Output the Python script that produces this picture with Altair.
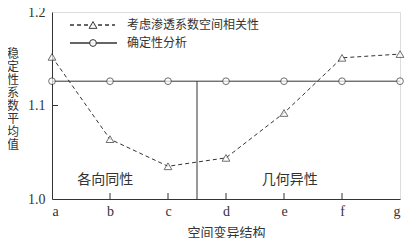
import altair as alt
import pandas as pd

# data
x_pos = [0, 1, 2, 3, 4, 5, 6]
x_labels = ["a", "b", "c", "d", "e", "f", "g"]
corr_vals = [1.152, 1.064, 1.035, 1.044, 1.092, 1.151, 1.155]
det_vals = [1.126, 1.126, 1.126, 1.126, 1.126, 1.126, 1.126]
divider_x = [2.5]
region_text = ["各向同性", "几何异性"]
region_x = [0.92, 4.1]
region_y = [1.02, 1.02]
legend_labels = ["考虑渗透系数空间相关性", "确定性分析"]
y_title = "稳定性系数平均值"

W, H = 348, 187
C = "#333333"
SERIF = "Liberation Serif, Noto Sans CJK SC"

df = pd.DataFrame({"x": x_pos, "corr": corr_vals, "det": det_vals})
xs = alt.Scale(domain=[0, 6], nice=False, zero=False)
ys = alt.Scale(domain=[1.0, 1.2], nice=False, zero=False)

label_expr = "[" + ",".join(f"'{l}'" for l in x_labels) + "][datum.value]"

xenc = alt.X("x:Q", scale=xs, title="空间变异结构",
             axis=alt.Axis(values=x_pos, labelExpr=label_expr, ticks=False,
                           grid=False, labelPadding=5, titlePadding=8,
                           labelFontSize=14, titleFontSize=13,
                           labelFont=SERIF, titleFont="Noto Sans CJK SC",
                           titleFontWeight="normal", labelColor=C, titleColor=C,
                           domainColor=C))

det_line = alt.Chart(df).mark_line(color=C, strokeWidth=1).encode(
    x=xenc,
    y=alt.Y("det:Q", scale=ys, title=None,
            axis=alt.Axis(values=[1.0, 1.1, 1.2], format=".1f", ticks=False,
                          grid=False, labelPadding=7,
                          labelFontSize=14, labelFont=SERIF,
                          labelColor=C, domainColor=C)))
det_pts = alt.Chart(df).mark_point(shape="circle", size=45, color=C, fill="white",
                                   filled=True, stroke=C, strokeWidth=1).encode(
    x=alt.X("x:Q", scale=xs), y=alt.Y("det:Q", scale=ys))
corr_line = alt.Chart(df).mark_line(color=C, strokeWidth=1, strokeDash=[4, 3]).encode(
    x=alt.X("x:Q", scale=xs), y=alt.Y("corr:Q", scale=ys))
corr_pts = alt.Chart(df).mark_point(shape="triangle-up", size=60, fill="white",
                                    filled=True, stroke=C, strokeWidth=1).encode(
    x=alt.X("x:Q", scale=xs), y=alt.Y("corr:Q", scale=ys))

div_df = pd.DataFrame({"x": divider_x, "y0": [1.0], "y1": [det_vals[0]]})
divider = alt.Chart(div_df).mark_rule(color=C, strokeWidth=1).encode(
    x=alt.X("x:Q", scale=xs), y=alt.Y("y0:Q", scale=ys), y2="y1:Q")

# inward ticks
tick_df = pd.DataFrame({"x": x_pos[1:-1]})
xticks = alt.Chart(tick_df).mark_rule(color=C, strokeWidth=1).encode(
    x=alt.X("x:Q", scale=xs), y=alt.value(H), y2=alt.value(H - 6))
ytick_df = pd.DataFrame({"y": [1.1]})
yticks = alt.Chart(ytick_df).mark_rule(color=C, strokeWidth=1).encode(
    y=alt.Y("y:Q", scale=ys), x=alt.value(0), x2=alt.value(6))

txt_df = pd.DataFrame({"t": region_text, "x": region_x, "y": region_y})
texts = alt.Chart(txt_df).mark_text(fontSize=14, color=C, font="Noto Sans CJK SC").encode(
    x=alt.X("x:Q", scale=xs), y=alt.Y("y:Q", scale=ys), text="t:N")

# vertical y-axis title (upright stacked characters)
ytitle_df = pd.DataFrame({"t": ["\n".join(y_title)]})
ytitle = alt.Chart(ytitle_df).mark_text(
    fontSize=12, color=C, font="Noto Sans CJK SC", lineBreak="\n",
    lineHeight=13, baseline="middle").encode(
    x=alt.value(-39), y=alt.value(42), text="t:N")

# legend
leg_df = pd.DataFrame({"t": legend_labels})
lg1_line = alt.Chart(leg_df).mark_rule(color=C, strokeWidth=1, strokeDash=[4, 3]).encode(
    x=alt.value(18), x2=alt.value(63), y=alt.value(13))
lg1_pt = alt.Chart(leg_df).mark_point(shape="triangle-up", size=60, fill="white", filled=True,
                                      stroke=C, strokeWidth=1).encode(
    x=alt.value(41), y=alt.value(13))
lg2_line = alt.Chart(leg_df).mark_rule(color=C, strokeWidth=1).encode(
    x=alt.value(18), x2=alt.value(65), y=alt.value(31))
lg2_pt = alt.Chart(leg_df).mark_point(shape="circle", size=45, fill="white", filled=True,
                                      stroke=C, strokeWidth=1).encode(
    x=alt.value(41), y=alt.value(31))
lg_txt1 = alt.Chart(pd.DataFrame({"t": [legend_labels[0]]})).mark_text(
    fontSize=12, color=C, align="left", font="Noto Sans CJK SC").encode(
    x=alt.value(75), y=alt.value(13), text="t:N")
lg_txt2 = alt.Chart(pd.DataFrame({"t": [legend_labels[1]]})).mark_text(
    fontSize=12, color=C, align="left", font="Noto Sans CJK SC").encode(
    x=alt.value(75), y=alt.value(31), text="t:N")

chart = alt.layer(
    det_line, divider, corr_line, det_pts, corr_pts, xticks, yticks, texts, ytitle,
    lg1_line, lg1_pt, lg2_line, lg2_pt, lg_txt1, lg_txt2
).properties(
    width=W, height=H,
    autosize=alt.AutoSizeParams(type="none"),
    padding={"left": 44, "top": 4, "right": 11, "bottom": 39},
).configure_view(stroke=C, strokeWidth=1).configure(background="white")

chart.save("out.html", embed_options={"renderer": "svg", "actions": False})
